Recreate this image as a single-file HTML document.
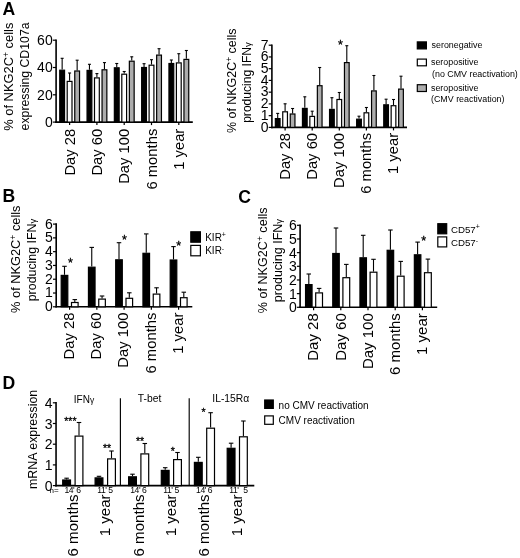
<!DOCTYPE html>
<html><head><meta charset="utf-8"><title>Figure</title>
<style>
html,body{margin:0;padding:0;background:#fff;}
body{width:520px;height:558px;overflow:hidden;}
svg{display:block;font-family:'Liberation Sans', Arial, sans-serif;fill:#000;}
</style></head><body>
<svg width="520" height="558" viewBox="0 0 520 558" font-family="'Liberation Sans', Arial, sans-serif">
<rect x="0" y="0" width="520" height="558" fill="#fff" stroke="none"/>
<text x="2.50" y="14.60" font-size="17.6" text-anchor="start" font-weight="bold">A</text>
<text x="2.40" y="202.40" font-size="17.6" text-anchor="start" font-weight="bold">B</text>
<text x="238.30" y="202.70" font-size="17.6" text-anchor="start" font-weight="bold">C</text>
<text x="2.40" y="388.50" font-size="17.6" text-anchor="start" font-weight="bold">D</text>
<line x1="56.10" y1="39.40" x2="56.10" y2="122.90" stroke="#000" stroke-width="1.6"/>
<line x1="55.30" y1="122.10" x2="192.80" y2="122.10" stroke="#000" stroke-width="1.6"/>
<line x1="52.90" y1="122.10" x2="56.10" y2="122.10" stroke="#000" stroke-width="1.2"/>
<text x="52.70" y="126.81" font-size="14" text-anchor="end" font-weight="normal">0</text>
<line x1="52.90" y1="94.80" x2="56.10" y2="94.80" stroke="#000" stroke-width="1.2"/>
<text x="52.70" y="99.51" font-size="14" text-anchor="end" font-weight="normal">20</text>
<line x1="52.90" y1="67.50" x2="56.10" y2="67.50" stroke="#000" stroke-width="1.2"/>
<text x="52.70" y="72.21" font-size="14" text-anchor="end" font-weight="normal">40</text>
<line x1="52.90" y1="40.20" x2="56.10" y2="40.20" stroke="#000" stroke-width="1.2"/>
<text x="52.70" y="44.91" font-size="14" text-anchor="end" font-weight="normal">60</text>
<line x1="62.15" y1="69.60" x2="62.15" y2="58.30" stroke="#000" stroke-width="1.1"/>
<line x1="60.65" y1="58.30" x2="63.65" y2="58.30" stroke="#000" stroke-width="1.1"/>
<rect x="59.75" y="70.20" width="4.80" height="51.90" fill="#000" stroke="#000" stroke-width="1.2"/>
<line x1="69.60" y1="80.80" x2="69.60" y2="73.00" stroke="#000" stroke-width="1.1"/>
<line x1="68.10" y1="73.00" x2="71.10" y2="73.00" stroke="#000" stroke-width="1.1"/>
<rect x="67.20" y="81.40" width="4.80" height="40.70" fill="#fff" stroke="#000" stroke-width="1.2"/>
<line x1="77.15" y1="70.40" x2="77.15" y2="60.20" stroke="#000" stroke-width="1.1"/>
<line x1="75.65" y1="60.20" x2="78.65" y2="60.20" stroke="#000" stroke-width="1.1"/>
<rect x="74.75" y="71.00" width="4.80" height="51.10" fill="#adadad" stroke="#000" stroke-width="1.2"/>
<line x1="89.45" y1="69.80" x2="89.45" y2="64.30" stroke="#000" stroke-width="1.1"/>
<line x1="87.95" y1="64.30" x2="90.95" y2="64.30" stroke="#000" stroke-width="1.1"/>
<rect x="87.05" y="70.40" width="4.80" height="51.70" fill="#000" stroke="#000" stroke-width="1.2"/>
<line x1="96.90" y1="77.30" x2="96.90" y2="73.60" stroke="#000" stroke-width="1.1"/>
<line x1="95.40" y1="73.60" x2="98.40" y2="73.60" stroke="#000" stroke-width="1.1"/>
<rect x="94.50" y="77.90" width="4.80" height="44.20" fill="#fff" stroke="#000" stroke-width="1.2"/>
<line x1="104.45" y1="69.20" x2="104.45" y2="62.60" stroke="#000" stroke-width="1.1"/>
<line x1="102.95" y1="62.60" x2="105.95" y2="62.60" stroke="#000" stroke-width="1.1"/>
<rect x="102.05" y="69.80" width="4.80" height="52.30" fill="#adadad" stroke="#000" stroke-width="1.2"/>
<line x1="116.75" y1="67.20" x2="116.75" y2="63.50" stroke="#000" stroke-width="1.1"/>
<line x1="115.25" y1="63.50" x2="118.25" y2="63.50" stroke="#000" stroke-width="1.1"/>
<rect x="114.35" y="67.80" width="4.80" height="54.30" fill="#000" stroke="#000" stroke-width="1.2"/>
<line x1="124.20" y1="73.60" x2="124.20" y2="71.50" stroke="#000" stroke-width="1.1"/>
<line x1="122.70" y1="71.50" x2="125.70" y2="71.50" stroke="#000" stroke-width="1.1"/>
<rect x="121.80" y="74.20" width="4.80" height="47.90" fill="#fff" stroke="#000" stroke-width="1.2"/>
<line x1="131.75" y1="60.60" x2="131.75" y2="56.80" stroke="#000" stroke-width="1.1"/>
<line x1="130.25" y1="56.80" x2="133.25" y2="56.80" stroke="#000" stroke-width="1.1"/>
<rect x="129.35" y="61.20" width="4.80" height="60.90" fill="#adadad" stroke="#000" stroke-width="1.2"/>
<line x1="144.05" y1="66.90" x2="144.05" y2="63.70" stroke="#000" stroke-width="1.1"/>
<line x1="142.55" y1="63.70" x2="145.55" y2="63.70" stroke="#000" stroke-width="1.1"/>
<rect x="141.65" y="67.50" width="4.80" height="54.60" fill="#000" stroke="#000" stroke-width="1.2"/>
<line x1="151.50" y1="64.60" x2="151.50" y2="59.70" stroke="#000" stroke-width="1.1"/>
<line x1="150.00" y1="59.70" x2="153.00" y2="59.70" stroke="#000" stroke-width="1.1"/>
<rect x="149.10" y="65.20" width="4.80" height="56.90" fill="#fff" stroke="#000" stroke-width="1.2"/>
<line x1="159.05" y1="54.50" x2="159.05" y2="48.70" stroke="#000" stroke-width="1.1"/>
<line x1="157.55" y1="48.70" x2="160.55" y2="48.70" stroke="#000" stroke-width="1.1"/>
<rect x="156.65" y="55.10" width="4.80" height="67.00" fill="#adadad" stroke="#000" stroke-width="1.2"/>
<line x1="171.35" y1="62.90" x2="171.35" y2="60.00" stroke="#000" stroke-width="1.1"/>
<line x1="169.85" y1="60.00" x2="172.85" y2="60.00" stroke="#000" stroke-width="1.1"/>
<rect x="168.95" y="63.50" width="4.80" height="58.60" fill="#000" stroke="#000" stroke-width="1.2"/>
<line x1="178.80" y1="62.30" x2="178.80" y2="53.70" stroke="#000" stroke-width="1.1"/>
<line x1="177.30" y1="53.70" x2="180.30" y2="53.70" stroke="#000" stroke-width="1.1"/>
<rect x="176.40" y="62.90" width="4.80" height="59.20" fill="#fff" stroke="#000" stroke-width="1.2"/>
<line x1="186.35" y1="58.80" x2="186.35" y2="50.50" stroke="#000" stroke-width="1.1"/>
<line x1="184.85" y1="50.50" x2="187.85" y2="50.50" stroke="#000" stroke-width="1.1"/>
<rect x="183.95" y="59.40" width="4.80" height="62.70" fill="#adadad" stroke="#000" stroke-width="1.2"/>
<line x1="69.60" y1="122.10" x2="69.60" y2="125.10" stroke="#000" stroke-width="1.2"/>
<line x1="96.90" y1="122.10" x2="96.90" y2="125.10" stroke="#000" stroke-width="1.2"/>
<line x1="124.20" y1="122.10" x2="124.20" y2="125.10" stroke="#000" stroke-width="1.2"/>
<line x1="151.50" y1="122.10" x2="151.50" y2="125.10" stroke="#000" stroke-width="1.2"/>
<line x1="178.80" y1="122.10" x2="178.80" y2="125.10" stroke="#000" stroke-width="1.2"/>
<text transform="translate(74.60,128.70) rotate(-90)" font-size="14.8" text-anchor="end" font-weight="normal">Day 28</text>
<text transform="translate(101.90,128.70) rotate(-90)" font-size="14.8" text-anchor="end" font-weight="normal">Day 60</text>
<text transform="translate(129.20,128.70) rotate(-90)" font-size="14.8" text-anchor="end" font-weight="normal">Day 100</text>
<text transform="translate(156.50,128.70) rotate(-90)" font-size="14.8" text-anchor="end" font-weight="normal">6 months</text>
<text transform="translate(183.80,128.70) rotate(-90)" font-size="14.8" text-anchor="end" font-weight="normal">1 year</text>
<text transform="translate(13.40,76.70) rotate(-90)" font-size="12.9" text-anchor="middle" font-weight="normal">% of NKG2C<tspan dy="-4" font-size="8.5">+</tspan><tspan dy="4"> cells</tspan></text>
<text transform="translate(29.30,76.40) rotate(-90)" font-size="12.3" text-anchor="middle" font-weight="normal">expressing CD107a</text>
<line x1="271.90" y1="44.40" x2="271.90" y2="128.20" stroke="#000" stroke-width="1.6"/>
<line x1="271.10" y1="127.40" x2="407.00" y2="127.40" stroke="#000" stroke-width="1.6"/>
<line x1="268.70" y1="127.40" x2="271.90" y2="127.40" stroke="#000" stroke-width="1.2"/>
<text x="268.50" y="131.71" font-size="14" text-anchor="end" font-weight="normal">0</text>
<line x1="268.70" y1="115.66" x2="271.90" y2="115.66" stroke="#000" stroke-width="1.2"/>
<text x="268.50" y="119.97" font-size="14" text-anchor="end" font-weight="normal">1</text>
<line x1="268.70" y1="103.91" x2="271.90" y2="103.91" stroke="#000" stroke-width="1.2"/>
<text x="268.50" y="108.23" font-size="14" text-anchor="end" font-weight="normal">2</text>
<line x1="268.70" y1="92.17" x2="271.90" y2="92.17" stroke="#000" stroke-width="1.2"/>
<text x="268.50" y="96.48" font-size="14" text-anchor="end" font-weight="normal">3</text>
<line x1="268.70" y1="80.43" x2="271.90" y2="80.43" stroke="#000" stroke-width="1.2"/>
<text x="268.50" y="84.74" font-size="14" text-anchor="end" font-weight="normal">4</text>
<line x1="268.70" y1="68.69" x2="271.90" y2="68.69" stroke="#000" stroke-width="1.2"/>
<text x="268.50" y="73.00" font-size="14" text-anchor="end" font-weight="normal">5</text>
<line x1="268.70" y1="56.94" x2="271.90" y2="56.94" stroke="#000" stroke-width="1.2"/>
<text x="268.50" y="61.25" font-size="14" text-anchor="end" font-weight="normal">6</text>
<line x1="268.70" y1="45.20" x2="271.90" y2="45.20" stroke="#000" stroke-width="1.2"/>
<text x="268.50" y="49.51" font-size="14" text-anchor="end" font-weight="normal">7</text>
<line x1="277.70" y1="118.00" x2="277.70" y2="113.40" stroke="#000" stroke-width="1.1"/>
<line x1="276.20" y1="113.40" x2="279.20" y2="113.40" stroke="#000" stroke-width="1.1"/>
<rect x="275.35" y="118.60" width="4.70" height="8.80" fill="#000" stroke="#000" stroke-width="1.2"/>
<line x1="285.10" y1="111.20" x2="285.10" y2="103.80" stroke="#000" stroke-width="1.1"/>
<line x1="283.60" y1="103.80" x2="286.60" y2="103.80" stroke="#000" stroke-width="1.1"/>
<rect x="282.75" y="111.80" width="4.70" height="15.60" fill="#fff" stroke="#000" stroke-width="1.2"/>
<line x1="292.60" y1="113.40" x2="292.60" y2="108.50" stroke="#000" stroke-width="1.1"/>
<line x1="291.10" y1="108.50" x2="294.10" y2="108.50" stroke="#000" stroke-width="1.1"/>
<rect x="290.25" y="114.00" width="4.70" height="13.40" fill="#adadad" stroke="#000" stroke-width="1.2"/>
<line x1="304.80" y1="107.80" x2="304.80" y2="96.80" stroke="#000" stroke-width="1.1"/>
<line x1="303.30" y1="96.80" x2="306.30" y2="96.80" stroke="#000" stroke-width="1.1"/>
<rect x="302.45" y="108.40" width="4.70" height="19.00" fill="#000" stroke="#000" stroke-width="1.2"/>
<line x1="312.20" y1="115.80" x2="312.20" y2="111.20" stroke="#000" stroke-width="1.1"/>
<line x1="310.70" y1="111.20" x2="313.70" y2="111.20" stroke="#000" stroke-width="1.1"/>
<rect x="309.85" y="116.40" width="4.70" height="11.00" fill="#fff" stroke="#000" stroke-width="1.2"/>
<line x1="319.70" y1="85.10" x2="319.70" y2="67.50" stroke="#000" stroke-width="1.1"/>
<line x1="318.20" y1="67.50" x2="321.20" y2="67.50" stroke="#000" stroke-width="1.1"/>
<rect x="317.35" y="85.70" width="4.70" height="41.70" fill="#adadad" stroke="#000" stroke-width="1.2"/>
<line x1="331.90" y1="108.80" x2="331.90" y2="97.70" stroke="#000" stroke-width="1.1"/>
<line x1="330.40" y1="97.70" x2="333.40" y2="97.70" stroke="#000" stroke-width="1.1"/>
<rect x="329.55" y="109.40" width="4.70" height="18.00" fill="#000" stroke="#000" stroke-width="1.2"/>
<line x1="339.30" y1="98.90" x2="339.30" y2="92.50" stroke="#000" stroke-width="1.1"/>
<line x1="337.80" y1="92.50" x2="340.80" y2="92.50" stroke="#000" stroke-width="1.1"/>
<rect x="336.95" y="99.50" width="4.70" height="27.90" fill="#fff" stroke="#000" stroke-width="1.2"/>
<line x1="346.80" y1="62.00" x2="346.80" y2="45.70" stroke="#000" stroke-width="1.1"/>
<line x1="345.30" y1="45.70" x2="348.30" y2="45.70" stroke="#000" stroke-width="1.1"/>
<rect x="344.45" y="62.60" width="4.70" height="64.80" fill="#adadad" stroke="#000" stroke-width="1.2"/>
<line x1="359.00" y1="118.60" x2="359.00" y2="116.20" stroke="#000" stroke-width="1.1"/>
<line x1="357.50" y1="116.20" x2="360.50" y2="116.20" stroke="#000" stroke-width="1.1"/>
<rect x="356.65" y="119.20" width="4.70" height="8.20" fill="#000" stroke="#000" stroke-width="1.2"/>
<line x1="366.40" y1="112.20" x2="366.40" y2="107.50" stroke="#000" stroke-width="1.1"/>
<line x1="364.90" y1="107.50" x2="367.90" y2="107.50" stroke="#000" stroke-width="1.1"/>
<rect x="364.05" y="112.80" width="4.70" height="14.60" fill="#fff" stroke="#000" stroke-width="1.2"/>
<line x1="373.90" y1="90.30" x2="373.90" y2="75.50" stroke="#000" stroke-width="1.1"/>
<line x1="372.40" y1="75.50" x2="375.40" y2="75.50" stroke="#000" stroke-width="1.1"/>
<rect x="371.55" y="90.90" width="4.70" height="36.50" fill="#adadad" stroke="#000" stroke-width="1.2"/>
<line x1="386.10" y1="104.20" x2="386.10" y2="99.20" stroke="#000" stroke-width="1.1"/>
<line x1="384.60" y1="99.20" x2="387.60" y2="99.20" stroke="#000" stroke-width="1.1"/>
<rect x="383.75" y="104.80" width="4.70" height="22.60" fill="#000" stroke="#000" stroke-width="1.2"/>
<line x1="393.50" y1="105.10" x2="393.50" y2="99.50" stroke="#000" stroke-width="1.1"/>
<line x1="392.00" y1="99.50" x2="395.00" y2="99.50" stroke="#000" stroke-width="1.1"/>
<rect x="391.15" y="105.70" width="4.70" height="21.70" fill="#fff" stroke="#000" stroke-width="1.2"/>
<line x1="401.00" y1="88.50" x2="401.00" y2="76.20" stroke="#000" stroke-width="1.1"/>
<line x1="399.50" y1="76.20" x2="402.50" y2="76.20" stroke="#000" stroke-width="1.1"/>
<rect x="398.65" y="89.10" width="4.70" height="38.30" fill="#adadad" stroke="#000" stroke-width="1.2"/>
<line x1="285.10" y1="127.40" x2="285.10" y2="130.40" stroke="#000" stroke-width="1.2"/>
<line x1="312.20" y1="127.40" x2="312.20" y2="130.40" stroke="#000" stroke-width="1.2"/>
<line x1="339.30" y1="127.40" x2="339.30" y2="130.40" stroke="#000" stroke-width="1.2"/>
<line x1="366.40" y1="127.40" x2="366.40" y2="130.40" stroke="#000" stroke-width="1.2"/>
<line x1="393.50" y1="127.40" x2="393.50" y2="130.40" stroke="#000" stroke-width="1.2"/>
<text transform="translate(289.70,132.90) rotate(-90)" font-size="14.8" text-anchor="end" font-weight="normal">Day 28</text>
<text transform="translate(316.80,132.90) rotate(-90)" font-size="14.8" text-anchor="end" font-weight="normal">Day 60</text>
<text transform="translate(343.90,132.90) rotate(-90)" font-size="14.8" text-anchor="end" font-weight="normal">Day 100</text>
<text transform="translate(371.00,132.90) rotate(-90)" font-size="14.8" text-anchor="end" font-weight="normal">6 months</text>
<text transform="translate(398.10,132.90) rotate(-90)" font-size="14.8" text-anchor="end" font-weight="normal">1 year</text>
<text transform="translate(235.50,80.80) rotate(-90)" font-size="12.45" text-anchor="middle" font-weight="normal">% of NKG2C<tspan dy="-4" font-size="8.5">+</tspan><tspan dy="4"> cells</tspan></text>
<text transform="translate(251.00,82.50) rotate(-90)" font-size="12.1" text-anchor="middle" font-weight="normal">producing IFN<tspan font-size="9.5">γ</tspan></text>
<text x="340.50" y="49.30" font-size="12.5" text-anchor="middle" stroke="#000" stroke-width="0.3">*</text>
<rect x="417.30" y="41.90" width="9.10" height="7.00" fill="#000" stroke="#000" stroke-width="1.2"/>
<rect x="417.30" y="59.10" width="9.10" height="6.70" fill="#fff" stroke="#000" stroke-width="1.2"/>
<rect x="417.30" y="84.70" width="9.10" height="6.80" fill="#adadad" stroke="#000" stroke-width="1.2"/>
<text x="431.60" y="48.20" font-size="8.9" text-anchor="start" font-weight="normal">seronegative</text>
<text x="431.00" y="64.60" font-size="8.9" text-anchor="start" font-weight="normal">seropositive</text>
<text x="432.00" y="77.00" font-size="8.9" text-anchor="start" font-weight="normal">(no CMV reactivation)</text>
<text x="431.00" y="90.50" font-size="8.9" text-anchor="start" font-weight="normal">seropositive</text>
<text x="431.00" y="101.80" font-size="8.9" text-anchor="start" font-weight="normal">(CMV reactivation)</text>
<line x1="56.20" y1="223.30" x2="56.20" y2="307.60" stroke="#000" stroke-width="1.6"/>
<line x1="55.40" y1="306.80" x2="192.30" y2="306.80" stroke="#000" stroke-width="1.6"/>
<line x1="53.00" y1="306.80" x2="56.20" y2="306.80" stroke="#000" stroke-width="1.2"/>
<text x="52.80" y="311.21" font-size="14" text-anchor="end" font-weight="normal">0</text>
<line x1="53.00" y1="293.02" x2="56.20" y2="293.02" stroke="#000" stroke-width="1.2"/>
<text x="52.80" y="297.43" font-size="14" text-anchor="end" font-weight="normal">1</text>
<line x1="53.00" y1="279.23" x2="56.20" y2="279.23" stroke="#000" stroke-width="1.2"/>
<text x="52.80" y="283.65" font-size="14" text-anchor="end" font-weight="normal">2</text>
<line x1="53.00" y1="265.45" x2="56.20" y2="265.45" stroke="#000" stroke-width="1.2"/>
<text x="52.80" y="269.86" font-size="14" text-anchor="end" font-weight="normal">3</text>
<line x1="53.00" y1="251.67" x2="56.20" y2="251.67" stroke="#000" stroke-width="1.2"/>
<text x="52.80" y="256.08" font-size="14" text-anchor="end" font-weight="normal">4</text>
<line x1="53.00" y1="237.88" x2="56.20" y2="237.88" stroke="#000" stroke-width="1.2"/>
<text x="52.80" y="242.30" font-size="14" text-anchor="end" font-weight="normal">5</text>
<line x1="53.00" y1="224.10" x2="56.20" y2="224.10" stroke="#000" stroke-width="1.2"/>
<text x="52.80" y="228.51" font-size="14" text-anchor="end" font-weight="normal">6</text>
<line x1="64.50" y1="274.80" x2="64.50" y2="266.30" stroke="#000" stroke-width="1.1"/>
<line x1="62.25" y1="266.30" x2="66.75" y2="266.30" stroke="#000" stroke-width="1.1"/>
<rect x="61.20" y="275.40" width="6.60" height="31.40" fill="#000" stroke="#000" stroke-width="1.2"/>
<line x1="74.80" y1="301.90" x2="74.80" y2="299.60" stroke="#000" stroke-width="1.1"/>
<line x1="72.55" y1="299.60" x2="77.05" y2="299.60" stroke="#000" stroke-width="1.1"/>
<rect x="71.50" y="302.50" width="6.60" height="4.30" fill="#fff" stroke="#000" stroke-width="1.2"/>
<line x1="91.75" y1="266.60" x2="91.75" y2="247.40" stroke="#000" stroke-width="1.1"/>
<line x1="89.50" y1="247.40" x2="94.00" y2="247.40" stroke="#000" stroke-width="1.1"/>
<rect x="88.45" y="267.20" width="6.60" height="39.60" fill="#000" stroke="#000" stroke-width="1.2"/>
<line x1="102.05" y1="298.50" x2="102.05" y2="296.00" stroke="#000" stroke-width="1.1"/>
<line x1="99.80" y1="296.00" x2="104.30" y2="296.00" stroke="#000" stroke-width="1.1"/>
<rect x="98.75" y="299.10" width="6.60" height="7.70" fill="#fff" stroke="#000" stroke-width="1.2"/>
<line x1="119.00" y1="259.20" x2="119.00" y2="242.70" stroke="#000" stroke-width="1.1"/>
<line x1="116.75" y1="242.70" x2="121.25" y2="242.70" stroke="#000" stroke-width="1.1"/>
<rect x="115.70" y="259.80" width="6.60" height="47.00" fill="#000" stroke="#000" stroke-width="1.2"/>
<line x1="129.30" y1="297.70" x2="129.30" y2="292.80" stroke="#000" stroke-width="1.1"/>
<line x1="127.05" y1="292.80" x2="131.55" y2="292.80" stroke="#000" stroke-width="1.1"/>
<rect x="126.00" y="298.30" width="6.60" height="8.50" fill="#fff" stroke="#000" stroke-width="1.2"/>
<line x1="146.25" y1="252.70" x2="146.25" y2="233.90" stroke="#000" stroke-width="1.1"/>
<line x1="144.00" y1="233.90" x2="148.50" y2="233.90" stroke="#000" stroke-width="1.1"/>
<rect x="142.95" y="253.30" width="6.60" height="53.50" fill="#000" stroke="#000" stroke-width="1.2"/>
<line x1="156.55" y1="293.50" x2="156.55" y2="287.80" stroke="#000" stroke-width="1.1"/>
<line x1="154.30" y1="287.80" x2="158.80" y2="287.80" stroke="#000" stroke-width="1.1"/>
<rect x="153.25" y="294.10" width="6.60" height="12.70" fill="#fff" stroke="#000" stroke-width="1.2"/>
<line x1="173.50" y1="259.40" x2="173.50" y2="246.60" stroke="#000" stroke-width="1.1"/>
<line x1="171.25" y1="246.60" x2="175.75" y2="246.60" stroke="#000" stroke-width="1.1"/>
<rect x="170.20" y="260.00" width="6.60" height="46.80" fill="#000" stroke="#000" stroke-width="1.2"/>
<line x1="183.80" y1="297.10" x2="183.80" y2="292.20" stroke="#000" stroke-width="1.1"/>
<line x1="181.55" y1="292.20" x2="186.05" y2="292.20" stroke="#000" stroke-width="1.1"/>
<rect x="180.50" y="297.70" width="6.60" height="9.10" fill="#fff" stroke="#000" stroke-width="1.2"/>
<line x1="69.60" y1="306.80" x2="69.60" y2="309.80" stroke="#000" stroke-width="1.2"/>
<line x1="96.85" y1="306.80" x2="96.85" y2="309.80" stroke="#000" stroke-width="1.2"/>
<line x1="124.10" y1="306.80" x2="124.10" y2="309.80" stroke="#000" stroke-width="1.2"/>
<line x1="151.35" y1="306.80" x2="151.35" y2="309.80" stroke="#000" stroke-width="1.2"/>
<line x1="178.60" y1="306.80" x2="178.60" y2="309.80" stroke="#000" stroke-width="1.2"/>
<text transform="translate(73.90,312.60) rotate(-90)" font-size="14.8" text-anchor="end" font-weight="normal">Day 28</text>
<text transform="translate(101.15,312.60) rotate(-90)" font-size="14.8" text-anchor="end" font-weight="normal">Day 60</text>
<text transform="translate(128.40,312.60) rotate(-90)" font-size="14.8" text-anchor="end" font-weight="normal">Day 100</text>
<text transform="translate(155.65,312.60) rotate(-90)" font-size="14.8" text-anchor="end" font-weight="normal">6 months</text>
<text transform="translate(182.90,312.60) rotate(-90)" font-size="14.8" text-anchor="end" font-weight="normal">1 year</text>
<text transform="translate(20.30,259.20) rotate(-90)" font-size="12.8" text-anchor="middle" font-weight="normal">% of NKG2C<tspan dy="-4" font-size="8.5">+</tspan><tspan dy="4"> cells</tspan></text>
<text transform="translate(36.30,260.00) rotate(-90)" font-size="12.4" text-anchor="middle" font-weight="normal">producing IFN<tspan font-size="9.5">γ</tspan></text>
<text x="70.40" y="267.40" font-size="12.5" text-anchor="middle" stroke="#000" stroke-width="0.3">*</text>
<text x="124.40" y="244.30" font-size="12.5" text-anchor="middle" stroke="#000" stroke-width="0.3">*</text>
<text x="178.60" y="249.90" font-size="12.5" text-anchor="middle" stroke="#000" stroke-width="0.3">*</text>
<rect x="190.80" y="231.80" width="9.60" height="10.40" fill="#000" stroke="#000" stroke-width="1.2"/>
<rect x="190.80" y="245.40" width="9.60" height="10.40" fill="#fff" stroke="#000" stroke-width="1.2"/>
<text x="205.20" y="240.80" font-size="10" text-anchor="start" font-weight="normal">KIR<tspan dy="-3.6" font-size="7">+</tspan></text>
<text x="205.20" y="254.20" font-size="10" text-anchor="start" font-weight="normal">KIR<tspan dy="-3.6" font-size="7">-</tspan></text>
<line x1="300.10" y1="224.50" x2="300.10" y2="308.10" stroke="#000" stroke-width="1.6"/>
<line x1="299.30" y1="307.30" x2="437.20" y2="307.30" stroke="#000" stroke-width="1.6"/>
<line x1="296.90" y1="307.30" x2="300.10" y2="307.30" stroke="#000" stroke-width="1.2"/>
<text x="296.70" y="312.31" font-size="14" text-anchor="end" font-weight="normal">0</text>
<line x1="296.90" y1="293.63" x2="300.10" y2="293.63" stroke="#000" stroke-width="1.2"/>
<text x="296.70" y="298.65" font-size="14" text-anchor="end" font-weight="normal">1</text>
<line x1="296.90" y1="279.97" x2="300.10" y2="279.97" stroke="#000" stroke-width="1.2"/>
<text x="296.70" y="284.98" font-size="14" text-anchor="end" font-weight="normal">2</text>
<line x1="296.90" y1="266.30" x2="300.10" y2="266.30" stroke="#000" stroke-width="1.2"/>
<text x="296.70" y="271.31" font-size="14" text-anchor="end" font-weight="normal">3</text>
<line x1="296.90" y1="252.63" x2="300.10" y2="252.63" stroke="#000" stroke-width="1.2"/>
<text x="296.70" y="257.65" font-size="14" text-anchor="end" font-weight="normal">4</text>
<line x1="296.90" y1="238.97" x2="300.10" y2="238.97" stroke="#000" stroke-width="1.2"/>
<text x="296.70" y="243.98" font-size="14" text-anchor="end" font-weight="normal">5</text>
<line x1="296.90" y1="225.30" x2="300.10" y2="225.30" stroke="#000" stroke-width="1.2"/>
<text x="296.70" y="230.31" font-size="14" text-anchor="end" font-weight="normal">6</text>
<line x1="308.80" y1="284.00" x2="308.80" y2="274.00" stroke="#000" stroke-width="1.1"/>
<line x1="306.55" y1="274.00" x2="311.05" y2="274.00" stroke="#000" stroke-width="1.1"/>
<rect x="305.55" y="284.60" width="6.50" height="22.70" fill="#000" stroke="#000" stroke-width="1.2"/>
<line x1="319.10" y1="292.30" x2="319.10" y2="288.40" stroke="#000" stroke-width="1.1"/>
<line x1="316.85" y1="288.40" x2="321.35" y2="288.40" stroke="#000" stroke-width="1.1"/>
<rect x="315.70" y="292.90" width="6.80" height="14.40" fill="#fff" stroke="#000" stroke-width="1.2"/>
<line x1="336.00" y1="252.90" x2="336.00" y2="228.00" stroke="#000" stroke-width="1.1"/>
<line x1="333.75" y1="228.00" x2="338.25" y2="228.00" stroke="#000" stroke-width="1.1"/>
<rect x="332.75" y="253.50" width="6.50" height="53.80" fill="#000" stroke="#000" stroke-width="1.2"/>
<line x1="346.30" y1="277.10" x2="346.30" y2="264.40" stroke="#000" stroke-width="1.1"/>
<line x1="344.05" y1="264.40" x2="348.55" y2="264.40" stroke="#000" stroke-width="1.1"/>
<rect x="342.90" y="277.70" width="6.80" height="29.60" fill="#fff" stroke="#000" stroke-width="1.2"/>
<line x1="363.20" y1="257.20" x2="363.20" y2="235.30" stroke="#000" stroke-width="1.1"/>
<line x1="360.95" y1="235.30" x2="365.45" y2="235.30" stroke="#000" stroke-width="1.1"/>
<rect x="359.95" y="257.80" width="6.50" height="49.50" fill="#000" stroke="#000" stroke-width="1.2"/>
<line x1="373.50" y1="271.60" x2="373.50" y2="259.30" stroke="#000" stroke-width="1.1"/>
<line x1="371.25" y1="259.30" x2="375.75" y2="259.30" stroke="#000" stroke-width="1.1"/>
<rect x="370.10" y="272.20" width="6.80" height="35.10" fill="#fff" stroke="#000" stroke-width="1.2"/>
<line x1="390.40" y1="249.70" x2="390.40" y2="230.00" stroke="#000" stroke-width="1.1"/>
<line x1="388.15" y1="230.00" x2="392.65" y2="230.00" stroke="#000" stroke-width="1.1"/>
<rect x="387.15" y="250.30" width="6.50" height="57.00" fill="#000" stroke="#000" stroke-width="1.2"/>
<line x1="400.70" y1="275.60" x2="400.70" y2="261.40" stroke="#000" stroke-width="1.1"/>
<line x1="398.45" y1="261.40" x2="402.95" y2="261.40" stroke="#000" stroke-width="1.1"/>
<rect x="397.30" y="276.20" width="6.80" height="31.10" fill="#fff" stroke="#000" stroke-width="1.2"/>
<line x1="417.60" y1="254.20" x2="417.60" y2="242.10" stroke="#000" stroke-width="1.1"/>
<line x1="415.35" y1="242.10" x2="419.85" y2="242.10" stroke="#000" stroke-width="1.1"/>
<rect x="414.35" y="254.80" width="6.50" height="52.50" fill="#000" stroke="#000" stroke-width="1.2"/>
<line x1="427.90" y1="272.10" x2="427.90" y2="259.10" stroke="#000" stroke-width="1.1"/>
<line x1="425.65" y1="259.10" x2="430.15" y2="259.10" stroke="#000" stroke-width="1.1"/>
<rect x="424.50" y="272.70" width="6.80" height="34.60" fill="#fff" stroke="#000" stroke-width="1.2"/>
<line x1="313.60" y1="307.30" x2="313.60" y2="310.30" stroke="#000" stroke-width="1.2"/>
<line x1="340.80" y1="307.30" x2="340.80" y2="310.30" stroke="#000" stroke-width="1.2"/>
<line x1="368.00" y1="307.30" x2="368.00" y2="310.30" stroke="#000" stroke-width="1.2"/>
<line x1="395.20" y1="307.30" x2="395.20" y2="310.30" stroke="#000" stroke-width="1.2"/>
<line x1="422.40" y1="307.30" x2="422.40" y2="310.30" stroke="#000" stroke-width="1.2"/>
<text transform="translate(318.30,313.20) rotate(-90)" font-size="15.0" text-anchor="end" font-weight="normal">Day 28</text>
<text transform="translate(345.50,313.20) rotate(-90)" font-size="15.0" text-anchor="end" font-weight="normal">Day 60</text>
<text transform="translate(372.70,313.20) rotate(-90)" font-size="15.0" text-anchor="end" font-weight="normal">Day 100</text>
<text transform="translate(399.90,313.20) rotate(-90)" font-size="15.0" text-anchor="end" font-weight="normal">6 months</text>
<text transform="translate(427.10,313.20) rotate(-90)" font-size="15.0" text-anchor="end" font-weight="normal">1 year</text>
<text transform="translate(266.70,260.30) rotate(-90)" font-size="12.6" text-anchor="middle" font-weight="normal">% of NKG2C<tspan dy="-4" font-size="8.5">+</tspan><tspan dy="4"> cells</tspan></text>
<text transform="translate(282.20,260.50) rotate(-90)" font-size="12.5" text-anchor="middle" font-weight="normal">producing IFN<tspan font-size="9.5">γ</tspan></text>
<text x="423.60" y="244.50" font-size="12.5" text-anchor="middle" stroke="#000" stroke-width="0.3">*</text>
<rect x="437.80" y="223.70" width="8.90" height="10.10" fill="#000" stroke="#000" stroke-width="1.2"/>
<rect x="437.80" y="236.90" width="8.90" height="10.00" fill="#fff" stroke="#000" stroke-width="1.2"/>
<text x="450.90" y="232.90" font-size="9.7" text-anchor="start" font-weight="normal">CD57<tspan dy="-3.6" font-size="7">+</tspan></text>
<text x="450.90" y="246.20" font-size="9.7" text-anchor="start" font-weight="normal">CD57<tspan dy="-3.6" font-size="7">-</tspan></text>
<line x1="56.05" y1="402.00" x2="56.05" y2="486.40" stroke="#000" stroke-width="1.6"/>
<line x1="55.25" y1="485.60" x2="254.30" y2="485.60" stroke="#000" stroke-width="1.6"/>
<line x1="52.85" y1="485.60" x2="56.05" y2="485.60" stroke="#000" stroke-width="1.2"/>
<text x="52.65" y="490.61" font-size="14" text-anchor="end" font-weight="normal">0</text>
<line x1="52.85" y1="464.90" x2="56.05" y2="464.90" stroke="#000" stroke-width="1.2"/>
<text x="52.65" y="469.91" font-size="14" text-anchor="end" font-weight="normal">1</text>
<line x1="52.85" y1="444.20" x2="56.05" y2="444.20" stroke="#000" stroke-width="1.2"/>
<text x="52.65" y="449.21" font-size="14" text-anchor="end" font-weight="normal">2</text>
<line x1="52.85" y1="423.50" x2="56.05" y2="423.50" stroke="#000" stroke-width="1.2"/>
<text x="52.65" y="428.51" font-size="14" text-anchor="end" font-weight="normal">3</text>
<line x1="52.85" y1="402.80" x2="56.05" y2="402.80" stroke="#000" stroke-width="1.2"/>
<text x="52.65" y="407.81" font-size="14" text-anchor="end" font-weight="normal">4</text>
<line x1="66.60" y1="479.40" x2="66.60" y2="478.20" stroke="#000" stroke-width="1.1"/>
<line x1="64.35" y1="478.20" x2="68.85" y2="478.20" stroke="#000" stroke-width="1.1"/>
<rect x="62.70" y="480.00" width="7.80" height="5.60" fill="#000" stroke="#000" stroke-width="1.2"/>
<line x1="79.00" y1="435.50" x2="79.00" y2="422.50" stroke="#000" stroke-width="1.1"/>
<line x1="76.75" y1="422.50" x2="81.25" y2="422.50" stroke="#000" stroke-width="1.1"/>
<rect x="75.10" y="436.10" width="7.80" height="49.50" fill="#fff" stroke="#000" stroke-width="1.2"/>
<line x1="99.00" y1="477.30" x2="99.00" y2="476.30" stroke="#000" stroke-width="1.1"/>
<line x1="96.75" y1="476.30" x2="101.25" y2="476.30" stroke="#000" stroke-width="1.1"/>
<rect x="95.10" y="477.90" width="7.80" height="7.70" fill="#000" stroke="#000" stroke-width="1.2"/>
<line x1="111.50" y1="458.30" x2="111.50" y2="451.00" stroke="#000" stroke-width="1.1"/>
<line x1="109.25" y1="451.00" x2="113.75" y2="451.00" stroke="#000" stroke-width="1.1"/>
<rect x="107.60" y="458.90" width="7.80" height="26.70" fill="#fff" stroke="#000" stroke-width="1.2"/>
<line x1="132.50" y1="476.20" x2="132.50" y2="474.20" stroke="#000" stroke-width="1.1"/>
<line x1="130.25" y1="474.20" x2="134.75" y2="474.20" stroke="#000" stroke-width="1.1"/>
<rect x="128.60" y="476.80" width="7.80" height="8.80" fill="#000" stroke="#000" stroke-width="1.2"/>
<line x1="144.80" y1="453.30" x2="144.80" y2="443.50" stroke="#000" stroke-width="1.1"/>
<line x1="142.55" y1="443.50" x2="147.05" y2="443.50" stroke="#000" stroke-width="1.1"/>
<rect x="140.90" y="453.90" width="7.80" height="31.70" fill="#fff" stroke="#000" stroke-width="1.2"/>
<line x1="165.20" y1="469.80" x2="165.20" y2="467.70" stroke="#000" stroke-width="1.1"/>
<line x1="162.95" y1="467.70" x2="167.45" y2="467.70" stroke="#000" stroke-width="1.1"/>
<rect x="161.30" y="470.40" width="7.80" height="15.20" fill="#000" stroke="#000" stroke-width="1.2"/>
<line x1="177.50" y1="459.00" x2="177.50" y2="452.50" stroke="#000" stroke-width="1.1"/>
<line x1="175.25" y1="452.50" x2="179.75" y2="452.50" stroke="#000" stroke-width="1.1"/>
<rect x="173.60" y="459.60" width="7.80" height="26.00" fill="#fff" stroke="#000" stroke-width="1.2"/>
<line x1="198.30" y1="461.80" x2="198.30" y2="457.30" stroke="#000" stroke-width="1.1"/>
<line x1="196.05" y1="457.30" x2="200.55" y2="457.30" stroke="#000" stroke-width="1.1"/>
<rect x="194.40" y="462.40" width="7.80" height="23.20" fill="#000" stroke="#000" stroke-width="1.2"/>
<line x1="210.60" y1="427.60" x2="210.60" y2="412.70" stroke="#000" stroke-width="1.1"/>
<line x1="208.35" y1="412.70" x2="212.85" y2="412.70" stroke="#000" stroke-width="1.1"/>
<rect x="206.70" y="428.20" width="7.80" height="57.40" fill="#fff" stroke="#000" stroke-width="1.2"/>
<line x1="231.10" y1="447.70" x2="231.10" y2="443.20" stroke="#000" stroke-width="1.1"/>
<line x1="228.85" y1="443.20" x2="233.35" y2="443.20" stroke="#000" stroke-width="1.1"/>
<rect x="227.20" y="448.30" width="7.80" height="37.30" fill="#000" stroke="#000" stroke-width="1.2"/>
<line x1="243.40" y1="436.20" x2="243.40" y2="421.00" stroke="#000" stroke-width="1.1"/>
<line x1="241.15" y1="421.00" x2="245.65" y2="421.00" stroke="#000" stroke-width="1.1"/>
<rect x="239.50" y="436.80" width="7.80" height="48.80" fill="#fff" stroke="#000" stroke-width="1.2"/>
<line x1="120.40" y1="398.30" x2="120.40" y2="485.60" stroke="#000" stroke-width="1.15"/>
<line x1="189.20" y1="398.30" x2="189.20" y2="485.60" stroke="#000" stroke-width="1.15"/>
<text x="73.80" y="402.60" font-size="10" text-anchor="start" font-weight="normal">IFN<tspan font-size="8.5">γ</tspan></text>
<text x="137.80" y="402.30" font-size="10.3" text-anchor="start" font-weight="normal">T-bet</text>
<text x="212.30" y="402.30" font-size="10.3" text-anchor="start" font-weight="normal">IL-15R<tspan font-size="10.3">α</tspan></text>
<text x="70.40" y="425.30" font-size="10.5" text-anchor="middle" stroke="#000" stroke-width="0.3">***</text>
<text x="107.00" y="452.30" font-size="10.5" text-anchor="middle" stroke="#000" stroke-width="0.3">**</text>
<text x="140.00" y="445.00" font-size="10.5" text-anchor="middle" stroke="#000" stroke-width="0.3">**</text>
<text x="172.70" y="455.30" font-size="10.5" text-anchor="middle" stroke="#000" stroke-width="0.3">*</text>
<text x="203.50" y="415.50" font-size="10.5" text-anchor="middle" stroke="#000" stroke-width="0.3">*</text>
<text x="49.60" y="492.80" font-size="8" text-anchor="start" font-weight="normal">n=</text>
<text x="72.50" y="492.90" font-size="8.6" text-anchor="middle" font-weight="normal" letter-spacing="-0.45" word-spacing="0">14' 6</text>
<text x="104.95" y="492.90" font-size="8.6" text-anchor="middle" font-weight="normal" letter-spacing="-0.45" word-spacing="0">11' 5</text>
<text x="138.35" y="492.90" font-size="8.6" text-anchor="middle" font-weight="normal" letter-spacing="-0.45" word-spacing="0">14' 6</text>
<text x="171.05" y="492.90" font-size="8.6" text-anchor="middle" font-weight="normal" letter-spacing="-0.45" word-spacing="0">11' 5</text>
<text x="204.15" y="492.90" font-size="8.6" text-anchor="middle" font-weight="normal" letter-spacing="-0.45" word-spacing="0">14' 6</text>
<text x="238.45" y="492.90" font-size="8.6" text-anchor="middle" font-weight="normal" letter-spacing="-0.45" word-spacing="3.0">11' 5</text>
<text transform="translate(77.80,494.40) rotate(-90)" font-size="15.1" text-anchor="end" font-weight="normal">6 months</text>
<text transform="translate(110.20,494.40) rotate(-90)" font-size="15.1" text-anchor="end" font-weight="normal">1 year</text>
<text transform="translate(143.60,494.40) rotate(-90)" font-size="15.1" text-anchor="end" font-weight="normal">6 months</text>
<text transform="translate(176.30,494.40) rotate(-90)" font-size="15.1" text-anchor="end" font-weight="normal">1 year</text>
<text transform="translate(209.40,494.40) rotate(-90)" font-size="15.1" text-anchor="end" font-weight="normal">6 months</text>
<text transform="translate(242.20,494.40) rotate(-90)" font-size="15.1" text-anchor="end" font-weight="normal">1 year</text>
<text transform="translate(37.30,439.40) rotate(-90)" font-size="12.4" text-anchor="middle" font-weight="normal">mRNA expression</text>
<rect x="264.70" y="400.00" width="8.60" height="8.40" fill="#000" stroke="#000" stroke-width="1.2"/>
<rect x="264.70" y="415.90" width="8.60" height="8.40" fill="#fff" stroke="#000" stroke-width="1.2"/>
<text x="278.60" y="408.60" font-size="10" text-anchor="start" font-weight="normal">no CMV reactivation</text>
<text x="278.60" y="424.10" font-size="10" text-anchor="start" font-weight="normal">CMV reactivation</text>
</svg>
</body></html>
